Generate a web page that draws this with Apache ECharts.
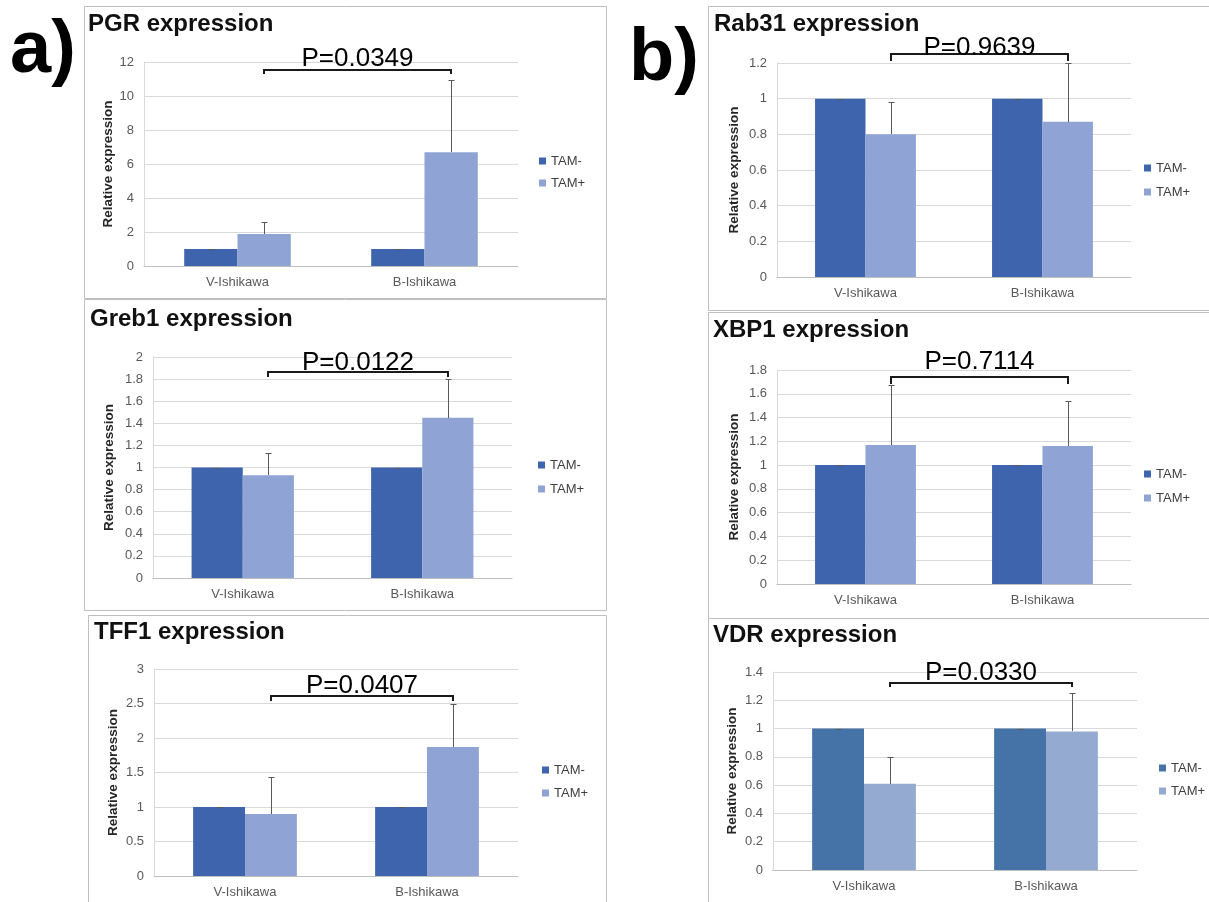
<!DOCTYPE html>
<html>
<head>
<meta charset="utf-8">
<script src="https://cdn.jsdelivr.net/npm/echarts@6/dist/echarts.min.js"></script>
<style>
html,body{margin:0;padding:0;background:#fff;}
#chart{width:1209px;height:902px;}
</style>
</head>
<body>
<div id="chart"></div>
<script>
// ---------------- DATA ----------------
const categories = ['V-Ishikawa', 'B-Ishikawa'];
const seriesNames = ['TAM-', 'TAM+'];
const panelTitles = ['PGR expression', 'Greb1 expression', 'TFF1 expression',
                     'Rab31 expression', 'XBP1 expression', 'VDR expression'];
const pLabels = ['P=0.0349', 'P=0.0122', 'P=0.0407', 'P=0.9639', 'P=0.7114', 'P=0.0330'];
const sectionLabels = ['a)', 'b)'];

const pgrMinus = [1, 1];     const pgrPlus = [1.88, 6.69];   const pgrPlusErr = [0.72, 4.24];
const greb1Minus = [1, 1];   const greb1Plus = [0.93, 1.45]; const greb1PlusErr = [0.20, 0.35];
const tff1Minus = [1, 1];    const tff1Plus = [0.90, 1.87];  const tff1PlusErr = [0.53, 0.63];
const rab31Minus = [1, 1];   const rab31Plus = [0.80, 0.87]; const rab31PlusErr = [0.18, 0.33];
const xbp1Minus = [1, 1];    const xbp1Plus = [1.17, 1.16];  const xbp1PlusErr = [0.50, 0.38];
const vdrMinus = [1, 1];     const vdrPlus = [0.61, 0.98];   const vdrPlusErr = [0.19, 0.27];
const minusErr = [0, 0];

const yMaxes = [12, 2, 3, 1.2, 1.8, 1.4];
const yIntervals = [2, 0.2, 0.5, 0.2, 0.2, 0.2];
// significance bracket levels (data units)
const bracketLevels = [11.53, 1.86, 2.61, 1.25, 1.74, 1.32];
const bracketTickEnds = [11.32, 1.82, 2.53, 1.213, 1.68, 1.294];
const pLabelLevels = [12.18, 1.946, 2.76, 1.284, 1.868, 1.397];

// ---------------- LAYOUT / STYLE ----------------
const FONT = '"Liberation Sans", Arial, sans-serif';
const GAP = 0.43;
const colorsStd = ['#3d64ad', '#8fa4d4'];
const colorsVdr = ['#4573a8', '#95aad0'];
const layout = [
  {grid: {left: 144, top: 62, width: 374, height: 204}, title: [88, 24], box: [84, 6, 522, 292], legend: [539, 154, 8], nameGap: 29, colors: colorsStd},
  {grid: {left: 153, top: 357, width: 359, height: 221}, title: [90, 319], box: [84, 299, 522, 311], legend: [538, 458, 10], nameGap: 37, colors: colorsStd},
  {grid: {left: 154, top: 669, width: 364, height: 207}, title: [94, 632], box: [88, 615, 518, 292], legend: [542, 763, 9], nameGap: 34, colors: colorsStd},
  {grid: {left: 777, top: 63, width: 354, height: 214}, title: [714, 24], box: [708, 6, 510, 304], legend: [1144, 161, 10], nameGap: 36, colors: colorsStd},
  {grid: {left: 777, top: 370, width: 354, height: 214}, title: [713, 330], box: [708, 312, 510, 306], legend: [1144, 467, 10], nameGap: 36, colors: colorsStd},
  {grid: {left: 773, top: 672, width: 364, height: 198}, title: [713, 635], box: [708, 618, 510, 290], legend: [1159, 761, 9], nameGap: 34, colors: colorsVdr}
];
const sectionPos = [[10, 52], [629, 60]];

const panelData = [
  {minus: pgrMinus, plus: pgrPlus, plusErr: pgrPlusErr},
  {minus: greb1Minus, plus: greb1Plus, plusErr: greb1PlusErr},
  {minus: tff1Minus, plus: tff1Plus, plusErr: tff1PlusErr},
  {minus: rab31Minus, plus: rab31Plus, plusErr: rab31PlusErr},
  {minus: xbp1Minus, plus: xbp1Plus, plusErr: xbp1PlusErr},
  {minus: vdrMinus, plus: vdrPlus, plusErr: vdrPlusErr}
];

function errRender(params, api) {
  const ci = api.value(0), v = api.value(1), e = api.value(2), s = api.value(3);
  const band = api.size([1, 0])[0];
  const bw = band * (1 - GAP) / 2;
  const c = api.coord([ci, v]);
  const x = Math.round(c[0] + (s === 0 ? -bw / 2 : bw / 2)) + 0.5;
  const yTop = Math.round(api.coord([ci, v + e])[1]) + 0.5;
  const y0 = Math.round(c[1]);
  const st = {stroke: '#595959', lineWidth: 1};
  return {type: 'group', children: [
    {type: 'line', shape: {x1: x, y1: y0, x2: x, y2: yTop}, style: st},
    {type: 'line', shape: {x1: x - 3, y1: yTop, x2: x + 3, y2: yTop}, style: st}
  ]};
}

function makeBracketRender(i) {
  return function (params, api) {
    const band = api.size([1, 0])[0];
    const bw = band * (1 - GAP) / 2;
    const lvl = api.value(1), tick = api.value(2), tl = api.value(3);
    const x0 = Math.round(api.coord([0, lvl])[0] + bw / 2);
    const x1 = Math.round(api.coord([1, lvl])[0] + bw / 2);
    const y = Math.round(api.coord([0, lvl])[1]);
    const yt = Math.round(api.coord([0, tick])[1]);
    const ytext = api.coord([0, tl])[1];
    return {type: 'group', children: [
      {type: 'polyline', shape: {points: [[x0, yt], [x0, y], [x1, y], [x1, yt]]},
       style: {stroke: '#1a1a1a', lineWidth: 2, fill: null}},
      {type: 'text', x: (x0 + x1) / 2, y: ytext,
       style: {text: pLabels[i], font: '26px ' + FONT, fill: '#000', align: 'center', verticalAlign: 'middle'}}
    ]};
  };
}

const grids = [], xAxes = [], yAxes = [], series = [], legends = [], graphics = [];

layout.forEach((L, i) => {
  const D = panelData[i];
  grids.push(Object.assign({containLabel: false, outerBoundsMode: 'none'}, L.grid));
  xAxes.push({
    type: 'category', gridIndex: i, data: categories,
    axisTick: {show: false},
    axisLine: {lineStyle: {color: '#bfbfbf', width: 1}},
    axisLabel: {color: '#595959', fontSize: 13, fontFamily: FONT, margin: 10},
    splitLine: {show: false}
  });
  yAxes.push({
    type: 'value', gridIndex: i, min: 0, max: yMaxes[i], interval: yIntervals[i],
    name: 'Relative expression', nameLocation: 'middle', nameRotate: 90, nameGap: L.nameGap,
    nameTextStyle: {color: '#262626', fontSize: 13.5, fontWeight: 'bold', fontFamily: FONT},
    axisLine: {show: true, lineStyle: {color: '#d9d9d9'}},
    axisTick: {show: false},
    axisLabel: {color: '#595959', fontSize: 13, fontFamily: FONT, margin: 10,
      formatter: v => String(Math.round(v * 100) / 100)},
    splitLine: {lineStyle: {color: '#d9d9d9', width: 1}}
  });
  series.push({
    type: 'bar', name: seriesNames[0], xAxisIndex: i, yAxisIndex: i, data: D.minus,
    barGap: '0%', barCategoryGap: (GAP * 100) + '%', itemStyle: {color: L.colors[0]}, z: 2
  });
  series.push({
    type: 'bar', name: seriesNames[1], xAxisIndex: i, yAxisIndex: i, data: D.plus,
    barGap: '0%', barCategoryGap: (GAP * 100) + '%', itemStyle: {color: L.colors[1]}, z: 2
  });
  const errData = [];
  categories.forEach((c, ci) => {
    errData.push([ci, D.minus[ci], minusErr[ci], 0]);
    errData.push([ci, D.plus[ci], D.plusErr[ci], 1]);
  });
  series.push({
    type: 'custom', name: 'err' + i, xAxisIndex: i, yAxisIndex: i,
    data: errData, encode: {x: 0, y: 1}, renderItem: errRender, z: 5, silent: true
  });
  series.push({
    type: 'custom', name: 'sig' + i, xAxisIndex: i, yAxisIndex: i,
    data: [[0, bracketLevels[i], bracketTickEnds[i], pLabelLevels[i]]],
    encode: {x: 0, y: 1}, renderItem: makeBracketRender(i), z: 6, silent: true, clip: false
  });
  legends.push({
    left: L.legend[0], top: L.legend[1], orient: 'vertical', itemGap: L.legend[2],
    padding: 0, itemWidth: 7, itemHeight: 7, icon: 'rect', selectedMode: false,
    textStyle: {color: '#404040', fontSize: 13, fontFamily: FONT, lineHeight: 14},
    data: [
      {name: seriesNames[0], itemStyle: {color: L.colors[0]}},
      {name: seriesNames[1], itemStyle: {color: L.colors[1]}}
    ]
  });
  graphics.push({
    type: 'rect', shape: {x: L.box[0] + 0.5, y: L.box[1] + 0.5, width: L.box[2], height: L.box[3]},
    style: {fill: null, stroke: '#bfbfbf', lineWidth: 1}, z: 0, silent: true
  });
  graphics.push({
    type: 'text', x: L.title[0], y: L.title[1],
    style: {text: panelTitles[i], font: 'bold 24px ' + FONT, fill: '#111', verticalAlign: 'middle'}
  });
});

sectionLabels.forEach((t, k) => {
  graphics.push({
    type: 'text', x: sectionPos[k][0], y: sectionPos[k][1],
    style: {text: t, font: 'bold 74px ' + FONT, fill: '#000', verticalAlign: 'middle'}
  });
});

const chart = echarts.init(document.getElementById('chart'), null, {renderer: 'canvas'});
chart.setOption({
  animation: false,
  backgroundColor: '#fff',
  grid: grids, xAxis: xAxes, yAxis: yAxes, series: series, legend: legends,
  graphic: graphics
});
</script>
</body>
</html>
